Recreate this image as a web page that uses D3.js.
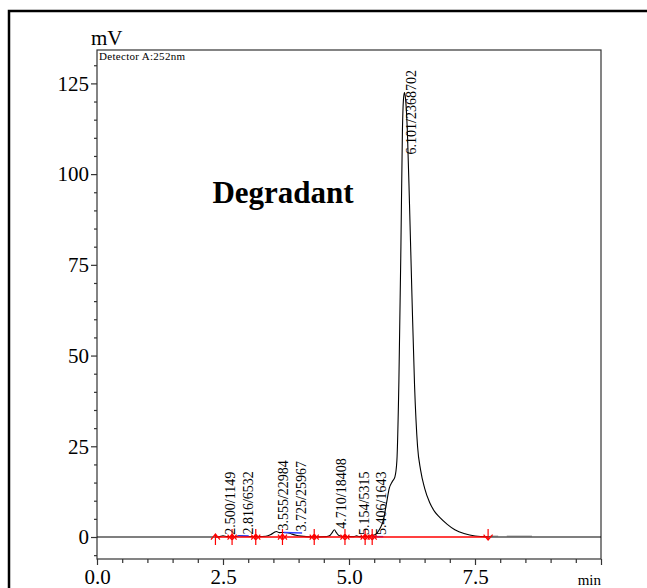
<!DOCTYPE html>
<html>
<head>
<meta charset="utf-8">
<script src="https://cdn.jsdelivr.net/npm/d3@7"></script>
<style>
  html, body { margin: 0; padding: 0; background: #fff; }
  svg { display: block; }
  text { font-family: "Liberation Serif", "Times New Roman", serif; }
</style>
</head>
<body>
<svg id="chart" width="647" height="588"></svg>
<script>
// ---------- data ----------
const traceTimes = [0, 2.3, 2.42, 2.5, 2.58, 2.7, 2.78, 2.82, 2.88, 3.0, 3.2, 3.35, 3.45, 3.52, 3.56, 3.62, 3.7, 3.78, 3.85, 3.95, 4.05, 4.15, 4.3, 4.55, 4.62, 4.67, 4.71, 4.75, 4.8, 4.9, 5.1, 5.15, 5.2, 5.35, 5.41, 5.47, 5.55, 5.62, 5.68, 5.74, 5.8, 5.86, 5.91, 5.95, 5.99, 6.03, 6.06, 6.08, 6.10, 6.12, 6.16, 6.2, 6.25, 6.3, 6.36, 6.42, 6.5, 6.6, 6.7, 6.8, 6.95, 7.1, 7.3, 7.5, 7.75, 8.0, 10.0];
const traceMV    = [0, 0, 0.05, 0.35, 0.1, 0.05, 0.2, 0.4, 0.3, 0.15, 0.1, 0.2, 0.7, 1.3, 1.5, 1.2, 1.25, 1.2, 0.9, 0.5, 0.25, 0.1, 0.05, 0.1, 0.4, 1.3, 2.0, 1.2, 0.4, 0.1, 0.1, 0.3, 0.1, 0.1, 0.3, 0.4, 1.0, 2.5, 4.5, 9, 13.5, 15.3, 16.5, 21, 43, 80, 112, 120.5, 122.5, 121, 111, 92, 66, 42, 25, 18.5, 13.5, 9.5, 7, 5.4, 3.5, 2.0, 0.9, 0.3, 0.05, 0, 0];

const peakTimes  = [2.500, 2.816, 3.555, 3.725, 4.710, 5.154, 5.406, 6.101];
const peakLabels = ["2.500/1149", "2.816/6532", "3.555/22984", "3.725/25967", "4.710/18408", "5.154/5315", "5.406/1643", "6.101/2368702"];

const markerTimes = [2.35, 2.68, 3.15, 3.68, 4.31, 4.92, 5.32, 5.46, 7.76];
const markerKinds = ["start", "both", "both", "both", "both", "both", "both", "both", "end"];

const redBaseline = [2.35, 7.76];
const blueStart = [2.79, 3.70, 5.46];
const blueEnd   = [3.01, 4.07, 5.68];
const blueMVStart = [0.3, 1.25, 0.1];
const blueMVEnd   = [0.3, 1.1, 0.1];
const grayStart = [7.80, 8.13];
const grayEnd   = [7.96, 8.63];
const grayMV    = [0.3, 0.3];

const xTickMajor = [0, 2.5, 5, 7.5, 10];
const xTickLabels = ["0.0", "2.5", "5.0", "7.5", ""];
const yTickMajor = [0, 25, 50, 75, 100, 125];
const yTickLabels = ["0", "25", "50", "75", "100", "125"];

const title = "Degradant";
const yUnit = "mV";
const xUnit = "min";
const detector = "Detector A:252nm";

// ---------- layout ----------
const svg = d3.select("#chart");
const L = 97, R = 601, T = 50, B = 559;

const x = d3.scaleLinear().domain([0, 10]).range([L, R]);
const y = d3.scaleLinear().domain([-6.06, 134.2]).range([B, T]);

// outer frame
svg.append("rect").attr("x", 9).attr("y", 11).attr("width", 800).attr("height", 800)
  .attr("fill", "none").attr("stroke", "#000").attr("stroke-width", 2.5);

// plot box
svg.append("rect").attr("x", L).attr("y", T).attr("width", R - L).attr("height", B - T)
  .attr("fill", "none").attr("stroke", "#333").attr("stroke-width", 1.2);

// y axis
const yMinor = d3.range(-5, 131, 5).filter(v => v % 25 !== 0);
const yAxisMinor = d3.axisLeft(y).tickValues(yMinor).tickSize(3).tickFormat("");
const yAxisMajor = d3.axisLeft(y).tickValues(yTickMajor).tickSize(6).tickPadding(2)
  .tickFormat((d, i) => yTickLabels[i]);
const gyMin = svg.append("g").attr("transform", `translate(${L},0)`).call(yAxisMinor);
const gy = svg.append("g").attr("transform", `translate(${L},0)`).call(yAxisMajor);
[gyMin, gy].forEach(g => {
  g.select(".domain").remove();
  g.selectAll("line").attr("stroke", "#333").attr("stroke-width", 1.2);
});
gy.selectAll("text").attr("font-size", 21).attr("fill", "#000")
  .attr("font-family", "Liberation Serif, serif");

// x axis
const xMinor = d3.range(0.5, 10, 0.5).filter(v => v % 2.5 !== 0);
const xAxisMinor = d3.axisBottom(x).tickValues(xMinor).tickSize(4).tickFormat("");
const xAxisMajor = d3.axisBottom(x).tickValues(xTickMajor).tickSize(6).tickPadding(4)
  .tickFormat((d, i) => xTickLabels[i]);
const gxMin = svg.append("g").attr("transform", `translate(0,${B})`).call(xAxisMinor);
const gx = svg.append("g").attr("transform", `translate(0,${B})`).call(xAxisMajor);
[gxMin, gx].forEach(g => {
  g.select(".domain").remove();
  g.selectAll("line").attr("stroke", "#333").attr("stroke-width", 1.2);
});
gx.selectAll("text").attr("font-size", 21).attr("fill", "#000")
  .attr("font-family", "Liberation Serif, serif");

// units / detector / title
svg.append("text").attr("x", 91).attr("y", 45).attr("font-size", 21).text(yUnit);
svg.append("text").attr("x", R).attr("y", 585).attr("text-anchor", "end").attr("font-size", 15).text(xUnit);
svg.append("text").attr("x", L + 2).attr("y", T + 10).attr("font-size", 11)
  .attr("letter-spacing", 0.3).text(detector);
svg.append("text").attr("x", 283).attr("y", 203).attr("text-anchor", "middle")
  .attr("font-size", 31).attr("font-weight", "bold").text(title);

// light gray baseline fragments after the last peak
grayStart.forEach((s, i) => {
  svg.append("line").attr("x1", x(s)).attr("x2", x(grayEnd[i]))
    .attr("y1", y(grayMV[i])).attr("y2", y(grayMV[i]))
    .attr("stroke", "#c8c8c8").attr("stroke-width", 1.5);
});

// trace
const pts = traceTimes.map((t, i) => [t, traceMV[i]]);
const line = d3.line().x(d => x(d[0])).y(d => y(d[1])).curve(d3.curveMonotoneX);
svg.append("path").datum(pts).attr("d", line)
  .attr("fill", "none").attr("stroke", "#000").attr("stroke-width", 1.1);

// blue baselines
blueStart.forEach((s, i) => {
  svg.append("line").attr("x1", x(s)).attr("x2", x(blueEnd[i]))
    .attr("y1", y(blueMVStart[i])).attr("y2", y(blueMVEnd[i]))
    .attr("stroke", "#3040ff").attr("stroke-width", 1.5);
});

// red baseline
svg.append("line").attr("x1", x(redBaseline[0])).attr("x2", x(redBaseline[1]))
  .attr("y1", y(0)).attr("y2", y(0)).attr("stroke", "#ff0000").attr("stroke-width", 1.4);

// markers
const y0 = y(0);
const mg = svg.append("g").attr("stroke", "#ff0000").attr("stroke-width", 1.2).attr("fill", "none");
markerTimes.forEach((t, i) => {
  const cx = x(t), k = markerKinds[i];
  let d = "";
  if (k === "start" || k === "both") {
    d += `M${cx},${y0 + 8}L${cx},${y0 - 3}M${cx - 4.5},${y0 + 2.5}L${cx},${y0 - 3}L${cx + 4.5},${y0 + 2.5}`;
  }
  if (k === "end" || k === "both") {
    d += `M${cx},${y0 - 8}L${cx},${y0 + 3}M${cx - 4.5},${y0 - 2.5}L${cx},${y0 + 3}L${cx + 4.5},${y0 - 2.5}`;
  }
  mg.append("path").attr("d", d);
});

// peak labels
function peakValue(t) {
  let m = 0;
  traceTimes.forEach((tt, i) => { if (Math.abs(tt - t) <= 0.05) m = Math.max(m, traceMV[i]); });
  return m;
}
let prevX = -Infinity;
peakTimes.forEach((t, i) => {
  let bx = x(t) + 12;
  if (bx - prevX < 17.5) bx = prevX + 17.5;
  prevX = bx;
  const txt = svg.append("text").attr("font-size", 14).attr("fill", "#000").text(peakLabels[i]);
  const len = txt.node().getComputedTextLength();
  let sy = y(peakValue(t)) - 1;
  if (sy - len < T + 20) sy = T + 20 + len;
  txt.attr("transform", `translate(${bx},${sy}) rotate(-90)`);
});
</script>
</body>
</html>
